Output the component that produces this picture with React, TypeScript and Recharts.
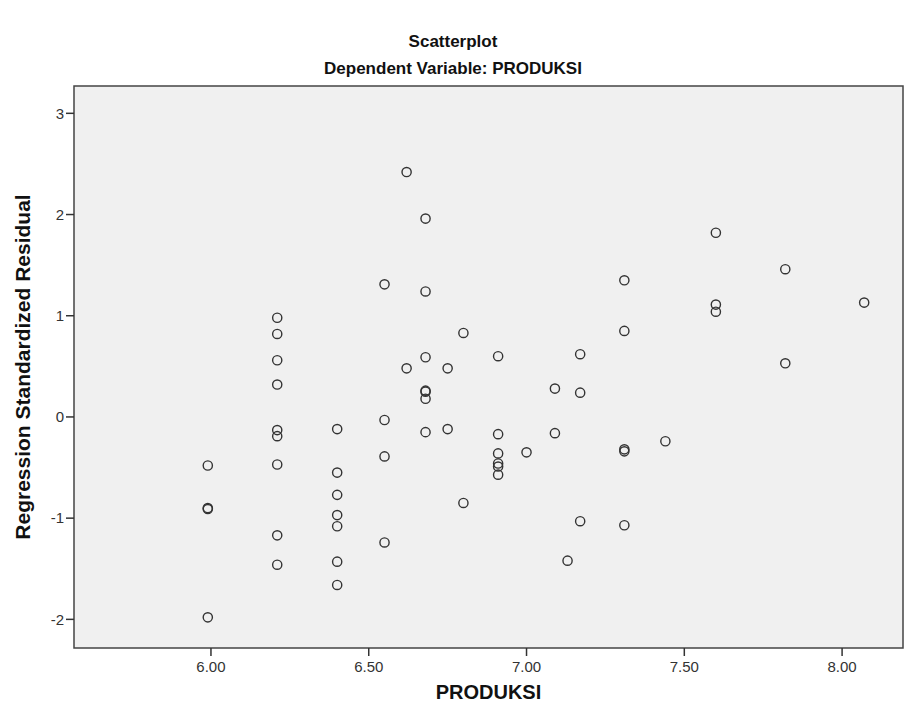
import { ReferenceArea, Scatter, ScatterChart, XAxis, YAxis } from "recharts";

const produksi = [
  5.99, 5.99, 5.99, 5.99,
  6.21, 6.21, 6.21, 6.21, 6.21, 6.21, 6.21, 6.21, 6.21,
  6.4, 6.4, 6.4, 6.4, 6.4, 6.4, 6.4,
  6.55, 6.55, 6.55, 6.55,
  6.62, 6.62,
  6.68, 6.68, 6.68, 6.68, 6.68, 6.68, 6.68,
  6.75, 6.75,
  6.8, 6.8,
  6.91, 6.91, 6.91, 6.91, 6.91, 6.91,
  7.0,
  7.09, 7.09,
  7.13,
  7.17, 7.17, 7.17,
  7.31, 7.31, 7.31, 7.31, 7.31,
  7.44,
  7.6, 7.6, 7.6,
  7.82, 7.82,
  8.07,
];

const residual = [
  -0.48, -0.9, -0.91, -1.98,
  0.98, 0.82, 0.56, 0.32, -0.13, -0.19, -0.47, -1.17, -1.46,
  -0.12, -0.55, -0.77, -0.97, -1.08, -1.43, -1.66,
  1.31, -0.03, -0.39, -1.24,
  2.42, 0.48,
  1.96, 1.24, 0.59, 0.26, 0.25, 0.18, -0.15,
  0.48, -0.12,
  0.83, -0.85,
  0.6, -0.17, -0.36, -0.46, -0.49, -0.57,
  -0.35,
  0.28, -0.16,
  -1.42,
  0.62, 0.24, -1.03,
  1.35, 0.85, -0.32, -0.34, -1.07,
  -0.24,
  1.82, 1.11, 1.04,
  1.46, 0.53,
  1.13,
];

const xTicks = [6, 6.5, 7, 7.5, 8];
const yTicks = [-2, -1, 0, 1, 2, 3];
const xDomain: [number, number] = [5.566, 8.193];
const yDomain: [number, number] = [-2.283, 3.27];

const points = produksi.map((x, i) => ({ x, y: residual[i] }));

const font = "'Liberation Sans', Arial, sans-serif";
const tickStyle = { fill: "#333", fontSize: 15, fontFamily: font };
const titleStyle = {
  position: "absolute" as const,
  width: 906,
  textAlign: "center" as const,
  fontWeight: "bold",
  fontSize: 17,
  lineHeight: "20px",
  color: "#111",
};

function Ring(props: any) {
  return <circle cx={props.cx} cy={props.cy} r={4.6} fill="none" stroke="#333" strokeWidth={1.4} />;
}

export default function App() {
  return (
    <div style={{ position: "absolute", left: 0, top: 0, width: 906, height: 715, background: "#fff", fontFamily: font }}>
      <div style={{ ...titleStyle, top: 32 }}>Scatterplot</div>
      <div style={{ ...titleStyle, top: 59 }}>Dependent Variable: PRODUKSI</div>
      <ScatterChart width={906} height={715} margin={{ top: 86, right: 3, bottom: 37, left: 34 }}>
        <XAxis
          type="number"
          dataKey="x"
          domain={xDomain}
          allowDataOverflow
          ticks={xTicks}
          tickFormatter={(v: number) => v.toFixed(2)}
          tick={tickStyle}
          tickSize={8}
          tickMargin={5}
          tickLine={{ stroke: "#333", strokeWidth: 1.5 }}
          axisLine={false}
          height={30}
          label={{ value: "PRODUKSI", position: "insideBottom", offset: -21, fill: "#111", fontWeight: "bold", fontSize: 20, fontFamily: font }}
        />
        <YAxis
          type="number"
          dataKey="y"
          domain={yDomain}
          allowDataOverflow
          ticks={yTicks}
          tick={tickStyle}
          tickSize={8}
          tickLine={{ stroke: "#333", strokeWidth: 1.5 }}
          axisLine={false}
          width={40}
          label={{
            value: "Regression Standardized Residual",
            angle: -90,
            position: "center",
            dx: -31,
            fill: "#111",
            fontWeight: "bold",
            fontSize: 21,
            fontFamily: font,
          }}
        />
        <ReferenceArea
          x1={xDomain[0]}
          x2={xDomain[1]}
          y1={yDomain[0]}
          y2={yDomain[1]}
          fill="#f0f0f0"
          fillOpacity={1}
          stroke="#444"
          strokeWidth={1.5}
          ifOverflow="visible"
        />
        <Scatter data={points} shape={Ring} isAnimationActive={false} />
      </ScatterChart>
    </div>
  );
}
